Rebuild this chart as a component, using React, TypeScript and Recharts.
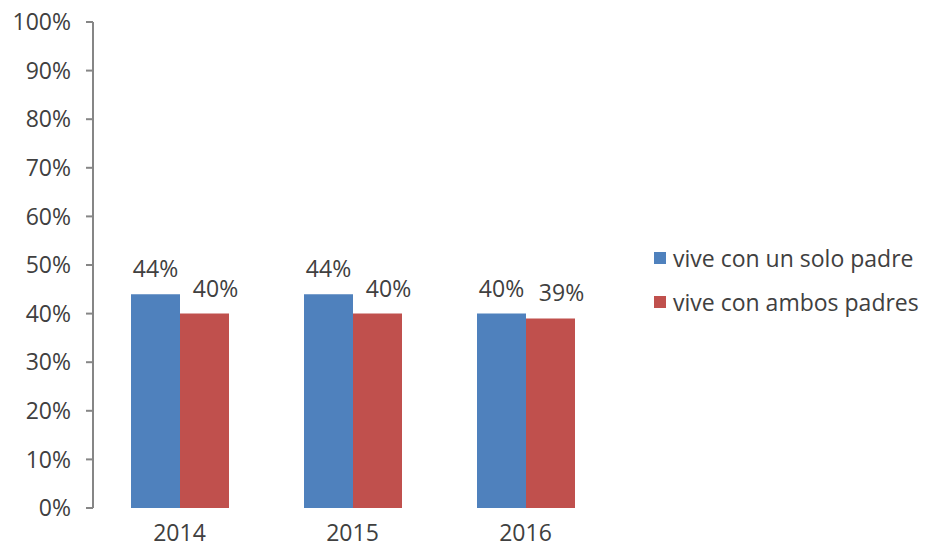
import React from 'react';
import { BarChart, Bar, XAxis, YAxis, LabelList } from 'recharts';

const years = ['2014', '2015', '2016'];
const soloPadre = [44, 44, 40];
const ambosPadres = [40, 40, 39];
const yTicks = [0, 10, 20, 30, 40, 50, 60, 70, 80, 90, 100];

const BLUE = '#4F81BD';
const RED = '#C0504D';
const TEXT = '#404040';
const AXIS = '#868686';
const FONT = '"Open Sans", Lato, sans-serif';
const FS = 23;

const data = years.map((y, i) => ({
  year: y,
  idx: i + 0.5,
  solo: soloPadre[i],
  ambos: ambosPadres[i],
}));

const legendItems = [
  { name: 'vive con un solo padre', color: BLUE },
  { name: 'vive con ambos padres', color: RED },
];

const textStyle = { fill: TEXT, fontSize: FS, fontFamily: FONT };

const App = () => {
  return (
    <div style={{ position: 'absolute', left: 0, top: 0, width: 928, height: 548, background: '#fff' }}>
      <BarChart
        width={928}
        height={548}
        data={data}
        margin={{ top: 22, right: 316, bottom: 0, left: 0 }}
        barGap={0}
        barSize={49}
      >
        <XAxis
          xAxisId="cat"
          dataKey="year"
          axisLine={false}
          tickLine={false}
          height={40}
          tick={textStyle}
          tickMargin={11}
        />
        <XAxis
          xAxisId="grid"
          type="number"
          dataKey="idx"
          domain={[0, 3]}
          ticks={[0, 1, 2, 3]}
          tick={false}
          height={0}
          axisLine={{ stroke: AXIS, strokeWidth: 2 }}
          tickLine={{ stroke: AXIS, strokeWidth: 2 }}
          tickSize={7}
        />
        <YAxis
          domain={[0, 100]}
          ticks={yTicks}
          width={93}
          interval={0}
          tickFormatter={(v) => `${v}%`}
          tick={textStyle}
          axisLine={{ stroke: AXIS, strokeWidth: 2 }}
          tickLine={{ stroke: AXIS, strokeWidth: 2 }}
          tickSize={7}
          tickMargin={15}
        />
        <Bar xAxisId="cat" dataKey="solo" name="vive con un solo padre" fill={BLUE} isAnimationActive={false}>
          <LabelList
            dataKey="solo"
            position="top"
            offset={17}
            formatter={(v: number) => `${v}%`}
            style={textStyle}
          />
        </Bar>
        <Bar xAxisId="cat" dataKey="ambos" name="vive con ambos padres" fill={RED} isAnimationActive={false}>
          <LabelList
            dataKey="ambos"
            position="top"
            offset={17}
            dx={11}
            formatter={(v: number) => `${v}%`}
            style={textStyle}
          />
        </Bar>
      </BarChart>
      <div
        style={{
          position: 'absolute',
          left: 654,
          top: 236,
          fontFamily: FONT,
          fontSize: FS,
          color: TEXT,
        }}
      >
        {legendItems.map((it) => (
          <div key={it.name} style={{ display: 'flex', alignItems: 'center', height: 44, whiteSpace: 'nowrap' }}>
            <span style={{ width: 12, height: 12, background: it.color, marginRight: 7, display: 'inline-block' }} />
            <span>{it.name}</span>
          </div>
        ))}
      </div>
    </div>
  );
};

export default App;
